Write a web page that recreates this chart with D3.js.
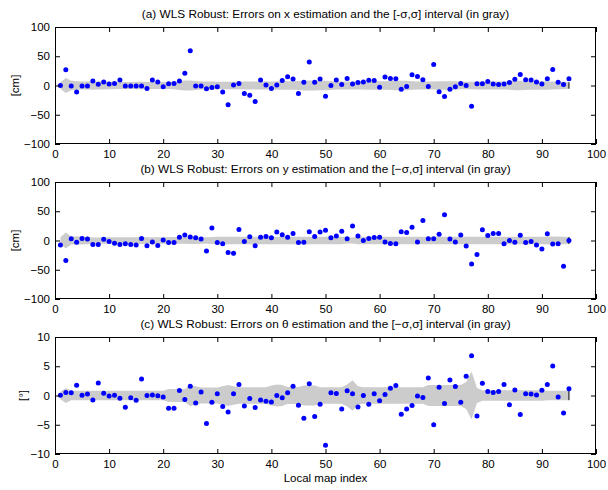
<!DOCTYPE html>
<html>
<head>
<meta charset="utf-8">
<script src="https://cdn.jsdelivr.net/npm/d3@7"></script>
<style>
  html, body { margin: 0; padding: 0; background: #fff; }
  svg { display: block; font-family: "Liberation Sans", Arial, Helvetica, sans-serif; }
</style>
</head>
<body>
<svg id="chart" width="608" height="490"></svg>
<script>
// Local map indices
const mapIndex = d3.range(1, 96);

// Errors on x estimation [cm]
const errX = [
  0, 27, -1, -11, -1, -1, 7.5, 2, 6, 2.5,
  3.5, 9.5, -1, -1, -1, -1, -5, 9.5, 6, -2,
  3, 3.5, 7.5, 21, 59.5, -1, -1, -5.5, -3.5, -2,
  -11, -33, 1, 3.5, -13.5, -16.5, -27.5, 9.5, 1, -5,
  1, 8.5, 15, 11, -13.5, 5.5, 40, 5.5, 11, -18.5,
  0, 9.5, 1.5, 12, 2.5, 5, 6, 9, 8.5, -3,
  14.5, 12, 11.5, -6.5, -1.5, 18.5, 15.5, 10, -1.5, 36,
  -10.5, -19, -6.5, -2, 3.5, 0, -35.5, 3, 3, 7,
  2.5, 1.5, 2.5, 5, 10.5, 19, 10, 9.5, 6, 2.5,
  11.5, 27.5, 5.5, 1.5, 11.5
];
// Standard deviation of x estimation [cm]
const sigmaX = [
  5.4, 13, 8, 7.2, 7, 7, 7.2, 7, 6.8, 6.6,
  6.2, 6, 5.8, 6, 6.3, 6.3, 6, 6, 6, 5.8,
  6, 6.3, 7.5, 8.5, 8.5, 7.5, 7, 7, 6.8, 6.6,
  6.3, 6.3, 6.3, 6.5, 6.8, 7, 7, 7, 7, 7,
  7.2, 7.4, 7.4, 7.4, 7.6, 8.5, 8.5, 8.5, 8, 8,
  7.6, 7, 7, 6.8, 7, 7, 7, 7.4, 7.4, 7.4,
  7.4, 7.6, 8, 8.3, 8, 7.4, 7, 7, 7, 7,
  7.4, 7.4, 7.4, 7.2, 6.6, 6.3, 6.5, 7, 7, 7,
  7, 7, 7, 7.4, 8, 8, 7.6, 7.4, 7.4, 7.4,
  7.4, 6.8, 6.5, 6.3, 5.5
];

// Errors on y estimation [cm]
const errY = [
  -7.5, -34, 3, -3, 3.5, 2.5, -7, -7, 2, -1.5,
  -4.5, -7, -5.5, -7, -7.5, 3.5, -9, -2.5, -8.5, 1,
  -3.5, -3.5, 5.5, 9.5, 6, 4.5, 2.5, -18, 21.5, -3.5,
  -5.5, -20.5, -22, 19, -1.5, 6.5, -9, 5.5, 7, 4.5,
  14.5, 10, 5.5, 12, -3.5, -3, 15, 7, 14.5, 17.5,
  4.5, 7.5, 16, 3, 25, 7.5, 0, 3.5, 5, 5.5,
  -2.5, -5, -5.5, 15, 13.5, 22.5, -2.5, 34, 3, 3,
  10.5, 44, 2.5, -2.5, 9.5, -9.5, -40, -24, 18.5, 8.5,
  12, 12, -5.5, 0, -3, 9, -3.5, -1.5, -7.5, -14.5,
  11.5, -6, -5.5, -44, 0
];
// Standard deviation of y estimation [cm]
const sigmaY = [
  5.5, 13.5, 7, 7, 6.8, 6.5, 5, 5.2, 5.7, 5.7,
  5.7, 5.6, 5.6, 5.7, 5.7, 5.8, 5.7, 5.6, 5.7, 5.7,
  5.8, 5.8, 5.7, 5.7, 5.8, 5.8, 5.7, 5.7, 5.8, 6.3,
  6.3, 6.3, 6.2, 6.3, 6.3, 6.3, 6.4, 6.3, 6.3, 6.3,
  6.3, 6.2, 6.3, 6.3, 6.3, 6.4, 6.3, 6.3, 6.3, 6.3,
  6.3, 6.3, 6.2, 5, 5.2, 6.3, 6.3, 6.3, 6.4, 6.3,
  6.3, 6.3, 6.3, 6.3, 6.2, 6.3, 6.3, 6.3, 6.3, 6.3,
  6.4, 6.3, 6.3, 6.3, 6.3, 6.3, 6.2, 6.3, 6.3, 6.3,
  6.3, 6.3, 6.3, 6.4, 6.3, 6.3, 6.3, 6.3, 6.3, 6.5,
  7, 7, 7, 6.5, 6
];

// Errors on theta estimation [deg]
const errTheta = [
  0.05, 0.5, 0.45, 1.75, 0.05, 0.25, -0.75, 2.15, 0.4, -0.1,
  0.05, -0.45, -2, -0.4, -0.8, 2.8, 0, 0.1, -0.05, -0.25,
  -2.2, -2.2, 0.85, -0.7, 1.6, -1.3, 0.6, -4.8, -1.15, 0.3,
  -1.9, -2.8, 0.3, 1.9, -1.8, -0.5, -2.05, -0.75, -1, -1.1,
  0, -0.4, 0.45, 1.6, -1.65, -3.9, 2, -3.6, -1.5, -8.5,
  0.45, 0.35, -2.3, 0.8, 0.3, -1.95, 0, -1.5, 0.3, -0.9,
  0.15, 1.25, 1.7, -3.2, -2.3, -1.7, -0.1, -0.35, 3, -5,
  1.4, -1.35, 2.65, 1.55, -1.15, 3.3, 6.8, -3.5, 2.1, 0.7,
  0.5, 0.7, 1.9, -1.6, 0.95, -3.25, 0.3, 0.25, 0.1, 0.9,
  1.9, 5.05, -0.25, -3, 1.15
];
// Standard deviation of theta estimation [deg]
const sigmaTheta = [
  0.65, 1.3, 0.8, 0.8, 0.8, 0.8, 0.8, 0.8, 0.8, 0.8,
  0.8, 0.8, 0.8, 0.8, 0.8, 0.8, 0.8, 0.8, 0.8, 0.8,
  1.1, 1.1, 1.1, 1.1, 1.8, 1.6, 1.35, 1.35, 1.35, 1.35,
  1.6, 1.8, 1.6, 1.4, 1.4, 1.4, 1.4, 1.4, 1.4, 1.7,
  1.9, 1.8, 1.45, 1.45, 1.45, 1.7, 1.7, 1.7, 1.4, 1.4,
  1.4, 1.4, 1.4, 1.9, 2.6, 1.6, 1.4, 1.4, 1.4, 1.4,
  1.4, 1.4, 1.4, 1.4, 1.4, 1.4, 1.4, 1.4, 1.8, 1.8,
  1.8, 1.8, 1.8, 1.8, 1.8, 2.3, 4.1, 1.3, 0.9, 0.9,
  0.9, 0.9, 0.9, 0.9, 0.9, 0.9, 0.9, 0.9, 0.9, 0.9,
  0.8, 0.8, 0.8, 0.8, 0.8
];

const xTicks = [0, 10, 20, 30, 40, 50, 60, 70, 80, 90, 100];
const cmTicks = [-100, -50, 0, 50, 100];
const degTicks = [-10, -5, 0, 5, 10];

const panels = [
  { title: "(a) WLS Robust: Errors on x estimation and the [-\u03c3,\u03c3] interval (in gray)",
    unit: "[cm]", err: errX, sigma: sigmaX, domain: [-100, 100], ticks: cmTicks, top: 27, labelX: 15 },
  { title: "(b) WLS Robust: Errors on y estimation and the [\u2212\u03c3,\u03c3] interval (in gray)",
    unit: "[cm]", err: errY, sigma: sigmaY, domain: [-100, 100], ticks: cmTicks, top: 182, labelX: 15 },
  { title: "(c) WLS Robust: Errors on \u03b8 estimation and the [\u2212\u03c3,\u03c3] interval (in gray)",
    unit: "[\u00b0]", err: errTheta, sigma: sigmaTheta, domain: [-10, 10], ticks: degTicks, top: 337, labelX: 23 }
];

const left = 55, right = 596, plotH = 117;
const svg = d3.select("#chart");
const x = d3.scaleLinear().domain([0, 100]).range([left, right]);
const fmt = d3.format("d");

panels.forEach(p => {
  const y = d3.scaleLinear().domain(p.domain).range([p.top + plotH, p.top]);
  const g = svg.append("g");

  // gray [-sigma, sigma] band
  const band = d3.area()
    .x((d, i) => x(mapIndex[i]))
    .y0(d => y(-d))
    .y1(d => y(d));
  g.append("path")
    .datum(p.sigma)
    .attr("d", band)
    .attr("fill", "#cccccc")
    .attr("stroke", "none");
  // closing edge of the band at the last map
  const last = p.sigma.length - 1;
  g.append("line")
    .attr("x1", x(mapIndex[last])).attr("x2", x(mapIndex[last]))
    .attr("y1", y(p.sigma[last])).attr("y2", y(-p.sigma[last]))
    .attr("stroke", "#000").attr("stroke-width", 1);

  // error points
  g.selectAll("circle")
    .data(p.err)
    .join("circle")
    .attr("cx", (d, i) => x(mapIndex[i]))
    .attr("cy", d => y(d))
    .attr("r", 2.5)
    .attr("fill", "#0000ff");

  // axes with inward ticks on all four sides
  const tk = 5;
  g.append("g")
    .attr("transform", `translate(0,${p.top + plotH})`)
    .call(d3.axisBottom(x).tickValues(xTicks).tickFormat(fmt).tickSizeInner(-tk).tickSizeOuter(0).tickPadding(6));
  g.append("g")
    .attr("transform", `translate(0,${p.top})`)
    .call(d3.axisTop(x).tickValues(xTicks).tickFormat("").tickSizeInner(-tk).tickSizeOuter(0));
  g.append("g")
    .attr("transform", `translate(${left},0)`)
    .call(d3.axisLeft(y).tickValues(p.ticks).tickFormat(fmt).tickSizeInner(-tk).tickSizeOuter(0).tickPadding(5));
  g.append("g")
    .attr("transform", `translate(${right},0)`)
    .call(d3.axisRight(y).tickValues(p.ticks).tickFormat("").tickSizeInner(-tk).tickSizeOuter(0));
  g.selectAll(".domain").remove();
  g.selectAll(".tick line").attr("stroke", "#000");
  g.selectAll(".tick text").attr("fill", "#000").style("font-size", "11.5px")
    .style("font-family", "'Liberation Sans', Arial, sans-serif");

  g.append("rect")
    .attr("x", left + 0.5).attr("y", p.top + 0.5)
    .attr("width", right - left - 1).attr("height", plotH - 1)
    .attr("fill", "none").attr("stroke", "#000").attr("stroke-width", 1);

  // title
  g.append("text")
    .attr("x", (left + right) / 2).attr("y", p.top - 9)
    .attr("text-anchor", "middle")
    .style("font-size", "11.8px")
    .text(p.title);

  // unit label
  g.append("text")
    .attr("transform", `translate(${p.labelX},${p.top + plotH / 2}) rotate(-90)`)
    .attr("text-anchor", "middle")
    .attr("dy", "0.35em")
    .style("font-size", "11.5px")
    .text(p.unit);
});

svg.append("text")
  .attr("x", (left + right) / 2).attr("y", 482)
  .attr("text-anchor", "middle")
  .style("font-size", "11.5px")
  .text("Local map index");
</script>
</body>
</html>
